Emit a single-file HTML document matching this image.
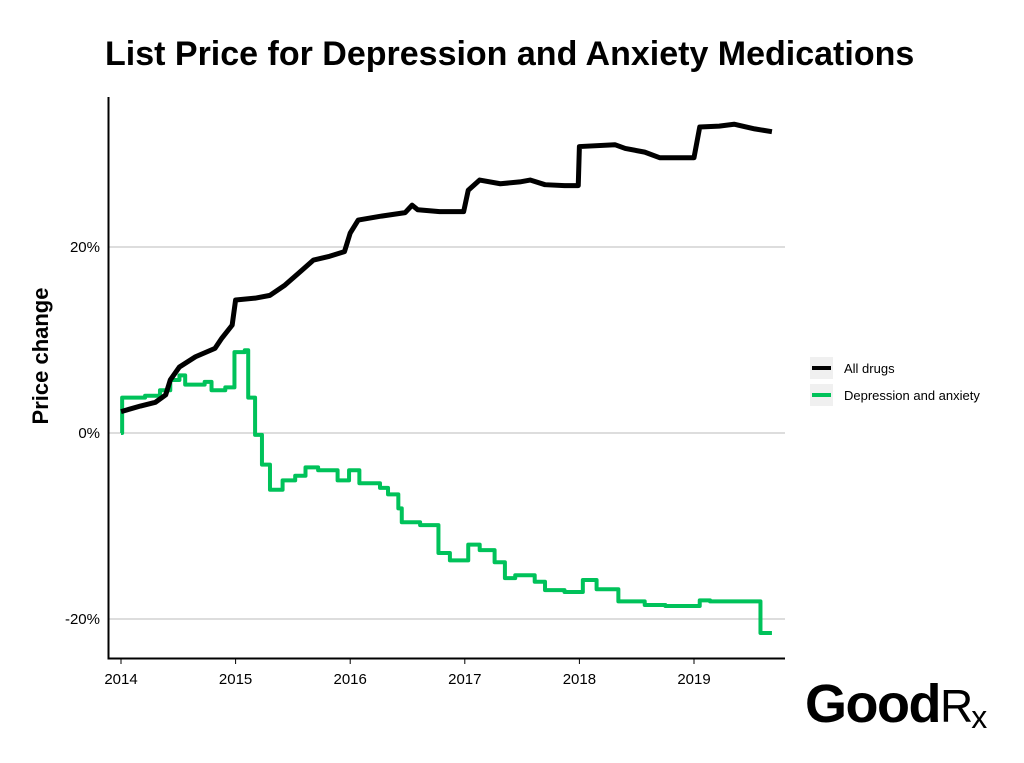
<!DOCTYPE html>
<html><head><meta charset="utf-8"><style>
body{margin:0;background:#fff;width:1024px;height:758px;overflow:hidden;font-family:"Liberation Sans",sans-serif}
</style></head><body>
<svg id="chart" width="1024" height="758" xmlns="http://www.w3.org/2000/svg">
<text x="105" y="65" font-size="34" font-weight="bold" fill="#000">List Price for Depression and Anxiety Medications</text>
<text transform="translate(48,356) rotate(-90)" text-anchor="middle" font-size="22" font-weight="bold">Price change</text>
<g id="grid"></g><g id="series"></g><g id="axes"></g>
<g>
<g>
<rect x="810" y="357" width="23" height="22" fill="#f0f0f0"/><line x1="812" y1="368" x2="831" y2="368" stroke="#000" stroke-width="4"/>
<text x="844" y="373" font-size="13">All drugs</text></g>
<g>
<rect x="810" y="384" width="23" height="22" fill="#f0f0f0"/><line x1="812" y1="395" x2="831" y2="395" stroke="#00c25a" stroke-width="4"/>
<text x="844" y="400" font-size="13">Depression and anxiety</text></g>
</g>
<text x="805" y="722" font-size="54" font-weight="bold" letter-spacing="-1.5">Good<tspan font-weight="normal" font-size="46" letter-spacing="-2">R</tspan><tspan font-weight="normal" font-size="32" dy="6">x</tspan></text>
</svg>
<script>
const yTicks=[20,0,-20];
const yTickLabels=["20%","0%","-20%"];
const xTicks=[2014,2015,2016,2017,2018,2019];
const allYears=[2014.0,2014.17,2014.3,2014.39,2014.43,2014.51,2014.65,2014.82,2014.88,2014.97,2015.0,2015.17,2015.3,2015.43,2015.56,2015.68,2015.82,2015.95,2016.0,2016.07,2016.26,2016.48,2016.54,2016.59,2016.78,2016.99,2017.03,2017.13,2017.31,2017.48,2017.57,2017.7,2017.87,2017.99,2018.0,2018.31,2018.4,2018.57,2018.7,2019.0,2019.05,2019.22,2019.35,2019.53,2019.68];
const allValues=[2.3,2.9,3.3,4.1,5.7,7.1,8.2,9.1,10.2,11.6,14.3,14.5,14.8,15.9,17.3,18.6,19.0,19.5,21.5,22.9,23.3,23.7,24.5,24.0,23.8,23.8,26.1,27.2,26.8,27.0,27.2,26.7,26.6,26.6,30.8,31.0,30.6,30.2,29.6,29.6,32.9,33.0,33.2,32.7,32.4];
const depYears=[2014.0,2014.01,2014.21,2014.34,2014.43,2014.51,2014.56,2014.73,2014.79,2014.91,2014.99,2015.08,2015.11,2015.17,2015.23,2015.3,2015.41,2015.52,2015.61,2015.72,2015.89,2015.99,2016.08,2016.26,2016.33,2016.42,2016.45,2016.61,2016.77,2016.87,2017.03,2017.13,2017.26,2017.35,2017.44,2017.61,2017.7,2017.87,2018.03,2018.15,2018.34,2018.57,2018.75,2019.05,2019.14,2019.56,2019.58,2019.68];
const depValues=[0,3.8,4.0,4.6,5.7,6.2,5.2,5.5,4.6,4.9,8.7,8.9,3.8,-0.2,-3.4,-6.1,-5.1,-4.6,-3.7,-4.0,-5.1,-4.0,-5.4,-5.9,-6.6,-8.1,-9.6,-9.9,-12.9,-13.7,-12.0,-12.6,-13.9,-15.6,-15.3,-16.0,-16.9,-17.1,-15.8,-16.8,-18.1,-18.5,-18.6,-18.0,-18.1,-18.1,-21.5,-21.5];
const NS="http://www.w3.org/2000/svg";
const X=v=>121+(v-2014)*114.6;
const Y=v=>433-v*9.3;
function mk(tag,attrs,parent){const e=document.createElementNS(NS,tag);for(const k in attrs)e.setAttribute(k,attrs[k]);parent.appendChild(e);return e;}
const grid=document.getElementById('grid'),axes=document.getElementById('axes'),series=document.getElementById('series');
yTicks.forEach((t,i)=>{
  const l=mk('line',{x1:108,x2:785,y1:Y(t),y2:Y(t),stroke:'#bbb','stroke-width':1},grid);
  
  
  const tx=mk('text',{x:100,y:Y(t)+5,'text-anchor':'end','font-size':15},axes);
  tx.textContent=yTickLabels[i];
  
  
});
const ax=mk('path',{d:'M108.5,97 V658.5 H785',fill:'none',stroke:'#000','stroke-width':2},axes);


xTicks.forEach(t=>{
  const tk=mk('line',{x1:X(t),x2:X(t),y1:659,y2:664,stroke:'#000','stroke-width':1},axes);
  
  
  const tx=mk('text',{x:X(t),y:684,'text-anchor':'middle','font-size':15},axes);
  tx.textContent=t;
  
  
});
function stepPath(xs,ys){let d='';xs.forEach((x,i)=>{if(i===0)d='M'+X(x)+','+Y(ys[i]);else d+=' H'+X(x)+' V'+Y(ys[i]);});return d;}
function linePath(xs,ys){return xs.map((x,i)=>(i?'L':'M')+X(x)+','+Y(ys[i])).join(' ');}
const p1=mk('path',{d:stepPath(depYears,depValues),fill:'none',stroke:'#00c25a','stroke-width':4,'stroke-linejoin':'round'},series);


const p2=mk('path',{d:linePath(allYears,allValues),fill:'none',stroke:'#000','stroke-width':5,'stroke-linejoin':'round'},series);


</script>
</body></html>
